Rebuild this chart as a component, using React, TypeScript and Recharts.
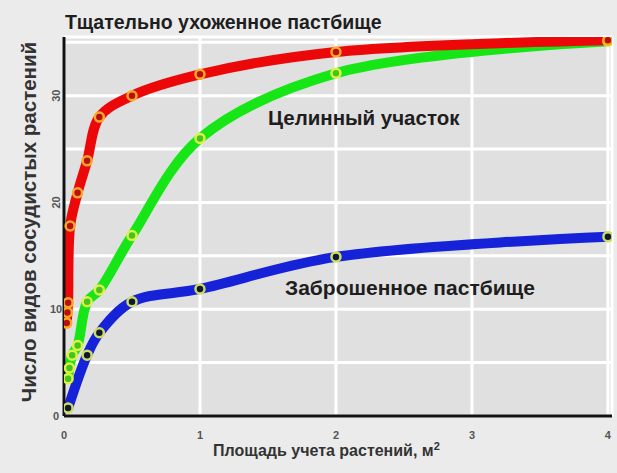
import React from 'react';
import { LineChart, Line, XAxis, YAxis, CartesianGrid } from 'recharts';

// Площадь учета (м²) и число видов для трёх участков
const groomedX = [0.02, 0.025, 0.03, 0.045, 0.1, 0.17, 0.26, 0.5, 1, 2, 4];
const groomedY = [8.7, 9.7, 10.6, 17.8, 20.9, 23.9, 28, 30, 32, 34.1, 35.2];

const virginX = [0.03, 0.04, 0.06, 0.1, 0.17, 0.26, 0.5, 1, 2, 4];
const virginY = [3.5, 4.5, 5.7, 6.6, 10.7, 11.8, 16.9, 26, 32.1, 35.1];

const abandonedX = [0.03, 0.17, 0.26, 0.5, 1, 2, 4];
const abandonedY = [0.75, 5.7, 7.8, 10.7, 11.9, 14.9, 16.8];

const xTicks = [0, 1, 2, 3, 4];
const yTicks = [0, 5, 10, 15, 20, 25, 30, 35];
const yLabeled = [0, 10, 20, 30];

const zip = (xs: number[], ys: number[]) => xs.map((x, i) => ({ x, y: ys[i] }));

const FONT = '"Liberation Sans", Arial, sans-serif';

// centripetal Catmull-Rom, passes through every point without the monotone kinks
function smoothCurve(context: any) {
  let pts: number[][] = [];
  return {
    areaStart() {},
    areaEnd() {},
    lineStart() {
      pts = [];
    },
    point(x: number, y: number) {
      pts.push([+x, +y]);
    },
    lineEnd() {
      if (!pts.length) return;
      context.moveTo(pts[0][0], pts[0][1]);
      const d = (a: number[], b: number[]) => Math.hypot(b[0] - a[0], b[1] - a[1]);
      for (let i = 0; i < pts.length - 1; i++) {
        const p0 = pts[i - 1] || pts[i];
        const p1 = pts[i];
        const p2 = pts[i + 1];
        const p3 = pts[i + 2] || p2;
        const l01 = Math.sqrt(d(p0, p1));
        const l12 = Math.sqrt(d(p1, p2));
        const l23 = Math.sqrt(d(p2, p3));
        let c1 = p1;
        let c2 = p2;
        if (l01 > 1e-6) {
          const a = 2 * l01 * l01 + 3 * l01 * l12 + l12 * l12;
          const n = 3 * l01 * (l01 + l12);
          c1 = [0, 1].map((k) => (p1[k] * a - p0[k] * l12 * l12 + p2[k] * l01 * l01) / n);
        }
        if (l23 > 1e-6) {
          const b = 2 * l23 * l23 + 3 * l23 * l12 + l12 * l12;
          const m = 3 * l23 * (l23 + l12);
          c2 = [0, 1].map((k) => (p2[k] * b + p1[k] * l23 * l23 - p3[k] * l12 * l12) / m);
        }
        context.bezierCurveTo(c1[0], c1[1], c2[0], c2[1], p2[0], p2[1]);
      }
    },
  };
}

const YTick = (props: any) => {
  const { x, y, payload } = props;
  if (!yLabeled.includes(payload.value)) return null;
  const rotate = payload.value >= 20;
  return (
    <text
      x={x}
      y={y}
      textAnchor="middle"
      dominantBaseline="central"
      fontFamily={FONT}
      fontWeight="bold"
      fontSize={11}
      fill="#555"
      transform={rotate ? `rotate(-90 ${x} ${y})` : undefined}
    >
      {payload.value}
    </text>
  );
};

const XTick = (props: any) => {
  const { x, y, payload } = props;
  return (
    <text
      x={x}
      y={y + 15}
      textAnchor="middle"
      fontFamily={FONT}
      fontWeight="bold"
      fontSize={11}
      fill="#555"
    >
      {payload.value}
    </text>
  );
};

const label = (text: React.ReactNode, left: number, top: number, size: number, extra?: any) => (
  <div
    style={{
      position: 'absolute',
      left,
      top,
      fontFamily: FONT,
      fontWeight: 'bold',
      fontSize: size,
      color: '#1e1e1e',
      whiteSpace: 'nowrap',
      lineHeight: 1,
      ...extra,
    }}
  >
    {text}
  </div>
);

const series = [
  { xs: abandonedX, ys: abandonedY, stroke: '#1622d8', fill: '#0e1a30', ring: '#cfdc62' },
  { xs: virginX, ys: virginY, stroke: '#16e616', fill: '#44c41e', ring: '#dcf444' },
  { xs: groomedX, ys: groomedY, stroke: '#ec0808', fill: '#b81010', ring: '#ffa824' },
];

export default function App() {
  return (
    <div style={{ position: 'absolute', left: 0, top: 0, width: 617, height: 473, background: '#ebebeb' }}>
      <LineChart width={617} height={473} margin={{ top: 37, right: 5, left: 44, bottom: 37 }}>
        <CartesianGrid fill="#e0e0e0" stroke="#ffffff" strokeWidth={3} />
        <XAxis
          type="number"
          dataKey="x"
          domain={[0, 4.03]}
          ticks={xTicks}
          allowDataOverflow
          height={20}
          tickLine={false}
          axisLine={{ stroke: '#111', strokeWidth: 3 }}
          tick={<XTick />}
        />
        <YAxis
          type="number"
          dataKey="y"
          domain={[0, 35.5]}
          ticks={yTicks}
          allowDataOverflow
          width={20}
          tickLine={false}
          axisLine={{ stroke: '#111', strokeWidth: 3 }}
          tick={<YTick />}
        />
        {series.map((s, i) => (
          <Line
            key={i}
            data={zip(s.xs, s.ys)}
            dataKey="y"
            type={smoothCurve as any}
            stroke={s.stroke}
            strokeWidth={10}
            strokeLinecap="round"
            dot={{ r: 4.5, fill: s.fill, stroke: s.ring, strokeWidth: 2.5 }}
            isAnimationActive={false}
          />
        ))}
      </LineChart>
      {label('Тщательно ухоженное пастбище', 65, 13, 19.5)}
      {label('Целинный участок', 268, 108, 20.5)}
      {label('Заброшенное пастбище', 285, 277, 21)}
      {label(
        <span>
          Площадь учета растений, м<sup style={{ fontSize: 11 }}>2</sup>
        </span>,
        213,
        441,
        16,
        { color: '#333' }
      )}
      {label('Число видов сосудистых растений', 29, 222, 20.5, {
        transform: 'translate(-50%, -50%) rotate(-90deg)',
        color: '#333',
      })}
    </div>
  );
}
